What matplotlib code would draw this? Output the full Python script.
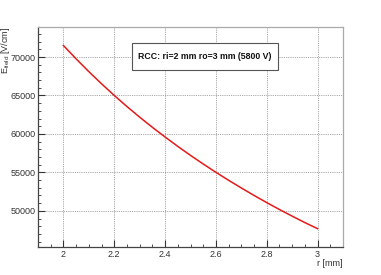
import matplotlib
matplotlib.use("Agg")
import matplotlib.pyplot as plt
from matplotlib.ticker import MultipleLocator, FuncFormatter
from matplotlib.patches import Rectangle

r_mm = [2.0, 2.05, 2.1, 2.15, 2.2, 2.25, 2.3, 2.35, 2.4, 2.45, 2.5,
        2.55, 2.6, 2.65, 2.7, 2.75, 2.8, 2.85, 2.9, 2.95, 3.0]
e_field = [71500, 69760, 68100, 66520, 65000, 63560, 62180, 60860, 59600, 58380, 57210,
           56090, 55010, 53970, 52970, 52000, 51070, 50170, 49310, 48470, 47680]
legend_text = "RCC: ri=2 mm ro=3 mm (5800 V)"
x_label = "r [mm]"
y_label = r"E$_{\rm field}$ [V/cm]"

plt.rcParams['font.family'] = ['Liberation Sans', 'DejaVu Sans']
plt.rcParams['mathtext.fontset'] = 'custom'
plt.rcParams['mathtext.rm'] = 'Liberation Sans'

fig = plt.figure(figsize=(3.81, 2.75), dpi=100)
ax = fig.add_axes([38/381, 1-247/275, (343-38)/381, (247-27)/275])

ax.plot(r_mm, e_field, color="#e41a1a", lw=1.1)

ax.set_xlim(1.9, 3.1)
ax.set_ylim(45296, 73904)
ax.xaxis.set_major_locator(MultipleLocator(0.2))
ax.xaxis.set_minor_locator(MultipleLocator(0.05))
ax.xaxis.set_major_formatter(FuncFormatter(lambda v, p: f"{v:g}"))
ax.yaxis.set_major_locator(MultipleLocator(5000))
ax.yaxis.set_minor_locator(MultipleLocator(1000))
ax.tick_params(which='both', direction='in', labelsize=6.5, colors='#333333')
ax.tick_params(axis='x', pad=2.5)
ax.tick_params(axis='y', pad=2)
ax.tick_params(which='major', length=5, width=0.8)
ax.tick_params(which='minor', length=2.5, width=0.6)
ax.grid(True, which='major', linestyle=(0, (1, 1.2)), color='#8a8a8a', lw=0.6)
for s in ax.spines.values():
    s.set_linewidth(0.9)
    s.set_color('#444444')
ax.spines['top'].set_color('#aaaaaa')
ax.spines['right'].set_color('#aaaaaa')

fig.text(343/381, 1-264/275, x_label, ha='right', va='center', fontsize=6.5, color='#333333')
fig.text(6/381, 1-27/275, y_label, ha='center', va='top', rotation=90, fontsize=6.5, color='#333333')

ax.add_patch(Rectangle(((132-38)/305, (247-70)/220), (278-132)/305, (70-43)/220,
                       transform=ax.transAxes, fc='white', ec='#555555', lw=0.8, zorder=5))
ax.text((205-38)/305, (247-56.5)/220, legend_text, transform=ax.transAxes,
        ha='center', va='center', fontsize=6.3, fontweight='bold', color='#111111', zorder=6)

fig.savefig("out.png", dpi=100)
